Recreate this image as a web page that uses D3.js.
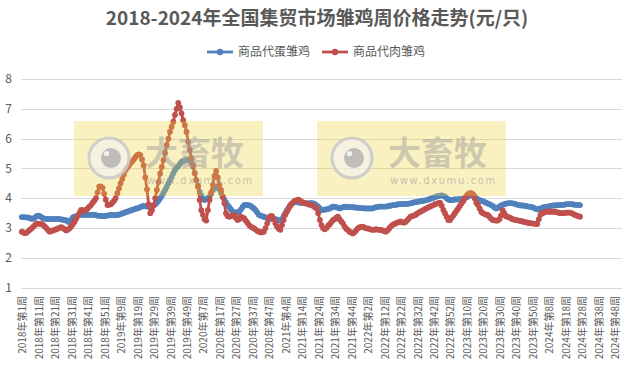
<!DOCTYPE html>
<html>
<head>
<meta charset="utf-8">
<script src="https://cdn.jsdelivr.net/npm/d3@7"></script>
<style>
  body { margin: 0; background: #fff; }
  text { font-family: "Noto Sans CJK SC", "Noto Sans", sans-serif; }
</style>
</head>
<body>
<div id="chart"></div>
<script>
// Data ----------------------------------------------------------------------->

const chartTitle = '2018-2024年全国集贸市场雏鸡周价格走势(元/只)';
const seriesNames = ['商品代蛋雏鸡', '商品代肉雏鸡'];
const seriesColors = ['#4f81bd', '#c0504d'];

// ISO weeks per year, categories run 2018 W1 .. 2024 W52
const years = [2018, 2019, 2020, 2021, 2022, 2023, 2024];
const weeksInYear = [52, 52, 53, 52, 52, 52, 52];
const yTicks = [1, 2, 3, 4, 5, 6, 7, 8];

// weekly prices (yuan / chick), 2018 W1 onwards
const eggChick = [
  3.37, 3.37, 3.36, 3.36, 3.35, 3.33, 3.31, 3.32, 3.36, 3.40,
  3.42, 3.40, 3.36, 3.33, 3.31, 3.31, 3.30, 3.31, 3.31, 3.30,
  3.30, 3.31, 3.31, 3.30, 3.29, 3.28, 3.27, 3.26, 3.21, 3.20,
  3.28, 3.36, 3.38, 3.40, 3.42, 3.44, 3.44, 3.45, 3.44, 3.44,
  3.45, 3.44, 3.44, 3.45, 3.44, 3.43, 3.42, 3.41, 3.41, 3.40,
  3.40, 3.41, 3.42, 3.43, 3.44, 3.44, 3.43, 3.44, 3.44, 3.45,
  3.47, 3.49, 3.51, 3.53, 3.55, 3.57, 3.59, 3.61, 3.63, 3.65,
  3.66, 3.68, 3.70, 3.73, 3.74, 3.73, 3.72, 3.72, 3.73, 3.75,
  3.77, 3.80, 3.85, 3.92, 4.00, 4.08, 4.18, 4.28, 4.39, 4.50,
  4.61, 4.72, 4.84, 4.95, 5.02, 5.08, 5.15, 5.23, 5.25, 5.27,
  5.28, 5.28, 5.25, 5.18, 5.06, 4.85, 4.61, 4.42, 4.22, 4.10,
  3.98, 3.94, 3.97, 4.00, 4.05, 4.15, 4.28, 4.33, 4.37, 4.39,
  4.30, 4.18, 4.05, 3.95, 3.86, 3.77, 3.70, 3.63, 3.56, 3.50,
  3.52, 3.54, 3.55, 3.62, 3.70, 3.77, 3.78, 3.77, 3.77, 3.74,
  3.70, 3.66, 3.60, 3.52, 3.44, 3.42, 3.40, 3.38, 3.36, 3.34,
  3.32, 3.30, 3.30, 3.30, 3.30, 3.28, 3.26, 3.25, 3.30, 3.40,
  3.50, 3.60, 3.68, 3.77, 3.82, 3.86, 3.88, 3.87, 3.86, 3.85,
  3.85, 3.84, 3.84, 3.83, 3.83, 3.84, 3.84, 3.83, 3.80, 3.76,
  3.72, 3.66, 3.61, 3.61, 3.62, 3.63, 3.64, 3.66, 3.69, 3.72,
  3.71, 3.70, 3.68, 3.66, 3.68, 3.70, 3.71, 3.72, 3.71, 3.70,
  3.70, 3.70, 3.69, 3.69, 3.68, 3.68, 3.67, 3.67, 3.66, 3.66,
  3.66, 3.66, 3.66, 3.66, 3.68, 3.70, 3.71, 3.72, 3.72, 3.72,
  3.72, 3.72, 3.73, 3.74, 3.75, 3.77, 3.77, 3.78, 3.79, 3.80,
  3.80, 3.80, 3.81, 3.81, 3.81, 3.82, 3.83, 3.84, 3.86, 3.87,
  3.88, 3.89, 3.90, 3.91, 3.92, 3.93, 3.94, 3.96, 3.98, 4.00,
  4.02, 4.04, 4.06, 4.08, 4.09, 4.10, 4.08, 4.05, 4.00, 3.96,
  3.94, 3.94, 3.95, 3.96, 3.96, 3.96, 3.97, 3.98, 3.99, 4.00,
  4.03, 4.06, 4.09, 4.11, 4.10, 4.06, 4.00, 3.96, 3.94, 3.92,
  3.90, 3.88, 3.85, 3.82, 3.80, 3.77, 3.74, 3.70, 3.66, 3.68,
  3.72, 3.76, 3.78, 3.80, 3.82, 3.83, 3.84, 3.84, 3.83, 3.82,
  3.80, 3.78, 3.77, 3.76, 3.76, 3.75, 3.74, 3.73, 3.72, 3.71,
  3.70, 3.68, 3.65, 3.63, 3.64, 3.66, 3.68, 3.70, 3.71, 3.72,
  3.73, 3.74, 3.75, 3.76, 3.76, 3.77, 3.77, 3.77, 3.78, 3.78,
  3.79, 3.80, 3.80, 3.80, 3.80, 3.79, 3.78, 3.78, 3.77, 3.77
];
const broilerChick = [
  2.88, 2.85, 2.83, 2.85, 2.90, 2.95, 2.99, 3.05, 3.10, 3.16,
  3.15, 3.14, 3.14, 3.10, 3.05, 2.99, 2.93, 2.88, 2.90, 2.92,
  2.94, 2.96, 2.99, 3.01, 3.03, 3.00, 2.96, 2.92, 2.95, 2.99,
  3.05, 3.13, 3.21, 3.31, 3.41, 3.51, 3.61, 3.60, 3.58, 3.61,
  3.66, 3.72, 3.77, 3.85, 3.92, 4.00, 4.20, 4.39, 4.40, 4.35,
  4.15, 3.95, 3.77, 3.78, 3.80, 3.85, 3.92, 4.00, 4.17, 4.33,
  4.50, 4.65, 4.80, 4.95, 5.02, 5.10, 5.17, 5.23, 5.30, 5.38,
  5.45, 5.47, 5.45, 5.30, 5.10, 4.70, 4.30, 3.80, 3.50, 3.60,
  3.75, 4.00, 4.28, 4.55, 4.83, 5.05, 5.28, 5.52, 5.79, 6.00,
  6.23, 6.40, 6.57, 6.80, 7.00, 7.20, 7.05, 6.85, 6.62, 6.45,
  6.23, 5.90, 5.62, 5.34, 5.10, 4.84, 4.60, 4.39, 3.94, 3.60,
  3.45, 3.30, 3.25, 3.60, 3.94, 4.20, 4.45, 4.75, 4.92, 4.70,
  4.45, 4.28, 4.05, 3.83, 3.50, 3.40, 3.38, 3.40, 3.42, 3.44,
  3.35, 3.27, 3.30, 3.38, 3.35, 3.33, 3.25, 3.18, 3.10, 3.05,
  3.02, 2.99, 2.95, 2.91, 2.88, 2.86, 2.86, 2.88, 3.00, 3.16,
  3.35, 3.40, 3.40, 3.30, 3.16, 3.05, 2.98, 2.94, 3.10, 3.27,
  3.45, 3.55, 3.65, 3.75, 3.82, 3.88, 3.92, 3.94, 3.95, 3.92,
  3.88, 3.85, 3.83, 3.82, 3.80, 3.78, 3.77, 3.74, 3.70, 3.66,
  3.50, 3.27, 3.10, 2.99, 2.96, 3.00, 3.08, 3.13, 3.20, 3.27,
  3.30, 3.35, 3.38, 3.30, 3.22, 3.16, 3.05, 2.98, 2.94, 2.88,
  2.85, 2.82, 2.86, 2.92, 2.99, 3.02, 3.04, 3.05, 3.02, 2.99,
  2.99, 2.97, 2.95, 2.94, 2.94, 2.96, 2.95, 2.94, 2.94, 2.92,
  2.90, 2.88, 2.92, 2.98, 3.05, 3.10, 3.13, 3.16, 3.18, 3.20,
  3.22, 3.20, 3.18, 3.20, 3.26, 3.32, 3.38, 3.40, 3.42, 3.44,
  3.48, 3.52, 3.55, 3.58, 3.61, 3.64, 3.67, 3.70, 3.72, 3.75,
  3.77, 3.80, 3.82, 3.84, 3.85, 3.75, 3.61, 3.50, 3.38, 3.27,
  3.27, 3.35, 3.42, 3.50, 3.58, 3.66, 3.74, 3.82, 3.90, 4.00,
  4.08, 4.14, 4.17, 4.17, 4.14, 4.00, 3.85, 3.77, 3.66, 3.55,
  3.50, 3.47, 3.45, 3.44, 3.38, 3.32, 3.27, 3.26, 3.25, 3.25,
  3.30, 3.42, 3.60, 3.50, 3.40, 3.38, 3.36, 3.33, 3.30, 3.28,
  3.27, 3.26, 3.25, 3.24, 3.22, 3.21, 3.20, 3.18, 3.17, 3.16,
  3.16, 3.15, 3.14, 3.14, 3.30, 3.45, 3.50, 3.52, 3.55, 3.55,
  3.55, 3.55, 3.54, 3.55, 3.55, 3.53, 3.52, 3.50, 3.50, 3.50,
  3.51, 3.52, 3.52, 3.52, 3.50, 3.47, 3.44, 3.42, 3.40, 3.38
];

// Setup ---------------------------------------------------------------------->

const width = 634, height = 375;
const plot = { left: 21, right: 622, top: 79, bottom: 287.7 };
const textColor = '#595959';

const weeks = [];
years.forEach((yr, k) => {
  for (let w = 1; w <= weeksInYear[k]; w++) weeks.push(yr + '年第' + w + '周');
});
const tickWeeks = weeks.filter((d, i) => i % 10 === 0);

const svg = d3.select('#chart')
  .append('svg')
    .attr('width', width)
    .attr('height', height);

const x = d3.scalePoint()
  .domain(weeks)
  .range([plot.left, plot.right])
  .padding(0.5);
const y = d3.scaleLinear()
  .domain([1, 8])
  .range([plot.bottom, plot.top]);

// Title and legend ----------------------------------------------------------->

svg.append('text')
  .attr('x', 317)
  .attr('y', 25)
  .attr('text-anchor', 'middle')
  .style('font-size', '19px')
  .style('font-weight', 'bold')
  .style('fill', textColor)
  .text(chartTitle);

const legendX = [207, 322];
const legend = svg.append('g')
  .selectAll('g')
  .data(seriesNames)
  .join('g')
    .attr('transform', (d, i) => 'translate(' + legendX[i] + ',52)');
legend.append('line')
  .attr('x1', 0).attr('x2', 26)
  .attr('stroke', (d, i) => seriesColors[i])
  .attr('stroke-width', 2.8);
legend.append('circle')
  .attr('cx', 13).attr('r', 3.2)
  .attr('fill', (d, i) => seriesColors[i]);
legend.append('text')
  .attr('x', 31)
  .attr('dy', '0.36em')
  .style('font-size', '12px')
  .style('fill', textColor)
  .text(d => d);

// Grid and axes -------------------------------------------------------------->

svg.append('g')
  .selectAll('line')
  .data(yTicks)
  .join('line')
    .attr('x1', plot.left)
    .attr('x2', plot.right)
    .attr('y1', d => Math.round(y(d)) + 0.5)
    .attr('y2', d => Math.round(y(d)) + 0.5)
    .attr('stroke', '#d9d9d9')
    .attr('stroke-width', 1);

svg.append('g')
  .selectAll('text')
  .data(yTicks)
  .join('text')
    .attr('x', 12)
    .attr('y', d => y(d))
    .attr('dy', '0.35em')
    .attr('text-anchor', 'end')
    .style('font-size', '12px')
    .style('fill', textColor)
    .text(d => d);

svg.append('g')
  .selectAll('text')
  .data(tickWeeks)
  .join('text')
    .attr('transform', d => 'translate(' + (x(d) + 1) + ',296) rotate(-90)')
    .attr('dy', '0.35em')
    .attr('text-anchor', 'end')
    .style('font-size', '10px')
    .style('fill', textColor)
    .text(d => d);

// Series --------------------------------------------------------------------->

const line = d3.line()
  .x((d, i) => x(weeks[i]))
  .y(d => y(d));

[eggChick, broilerChick].forEach((series, k) => {
  const g = svg.append('g');
  g.append('path')
    .datum(series)
    .attr('fill', 'none')
    .attr('stroke', seriesColors[k])
    .attr('stroke-width', 2.8)
    .attr('stroke-linejoin', 'round')
    .attr('d', line);
  g.selectAll('circle')
    .data(series)
    .join('circle')
      .attr('cx', (d, i) => x(weeks[i]))
      .attr('cy', d => y(d))
      .attr('r', 2.9)
      .attr('fill', seriesColors[k]);
});

// Watermarks (drawn over the plot, semi transparent) ------------------------->

const marks = [74, 317];
const wm = svg.append('g')
  .selectAll('g')
  .data(marks)
  .join('g')
    .attr('transform', d => 'translate(' + d + ',121)');
wm.append('rect')
  .attr('width', 189)
  .attr('height', 75)
  .attr('fill', 'rgb(240,210,50)')
  .attr('opacity', 0.3);
wm.append('circle')
  .attr('cx', 35).attr('cy', 37).attr('r', 20)
  .attr('fill', '#f4f4f4')
  .attr('fill-opacity', 0.6)
  .attr('stroke', '#c8c8c8')
  .attr('stroke-width', 3)
  .attr('stroke-opacity', 0.85);
wm.append('circle')
  .attr('cx', 37).attr('cy', 37).attr('r', 10)
  .attr('fill', '#b4b4b4')
  .attr('opacity', 0.85);
wm.append('circle')
  .attr('cx', 32.5).attr('cy', 32.5).attr('r', 2.6)
  .attr('fill', '#f2f2f2');
wm.append('text')
  .attr('x', 71)
  .attr('y', 44)
  .style('font-size', '33px')
  .style('font-weight', 'bold')
  .style('fill', '#999')
  .style('opacity', 0.45)
  .text('大畜牧');
wm.append('text')
  .attr('x', 73)
  .attr('y', 63)
  .style('font-family', '"DejaVu Sans", sans-serif')
  .style('font-size', '10px')
  .style('letter-spacing', '1.6px')
  .style('fill', '#999')
  .style('opacity', 0.55)
  .text('www.dxumu.com');
</script>
</body>
</html>
